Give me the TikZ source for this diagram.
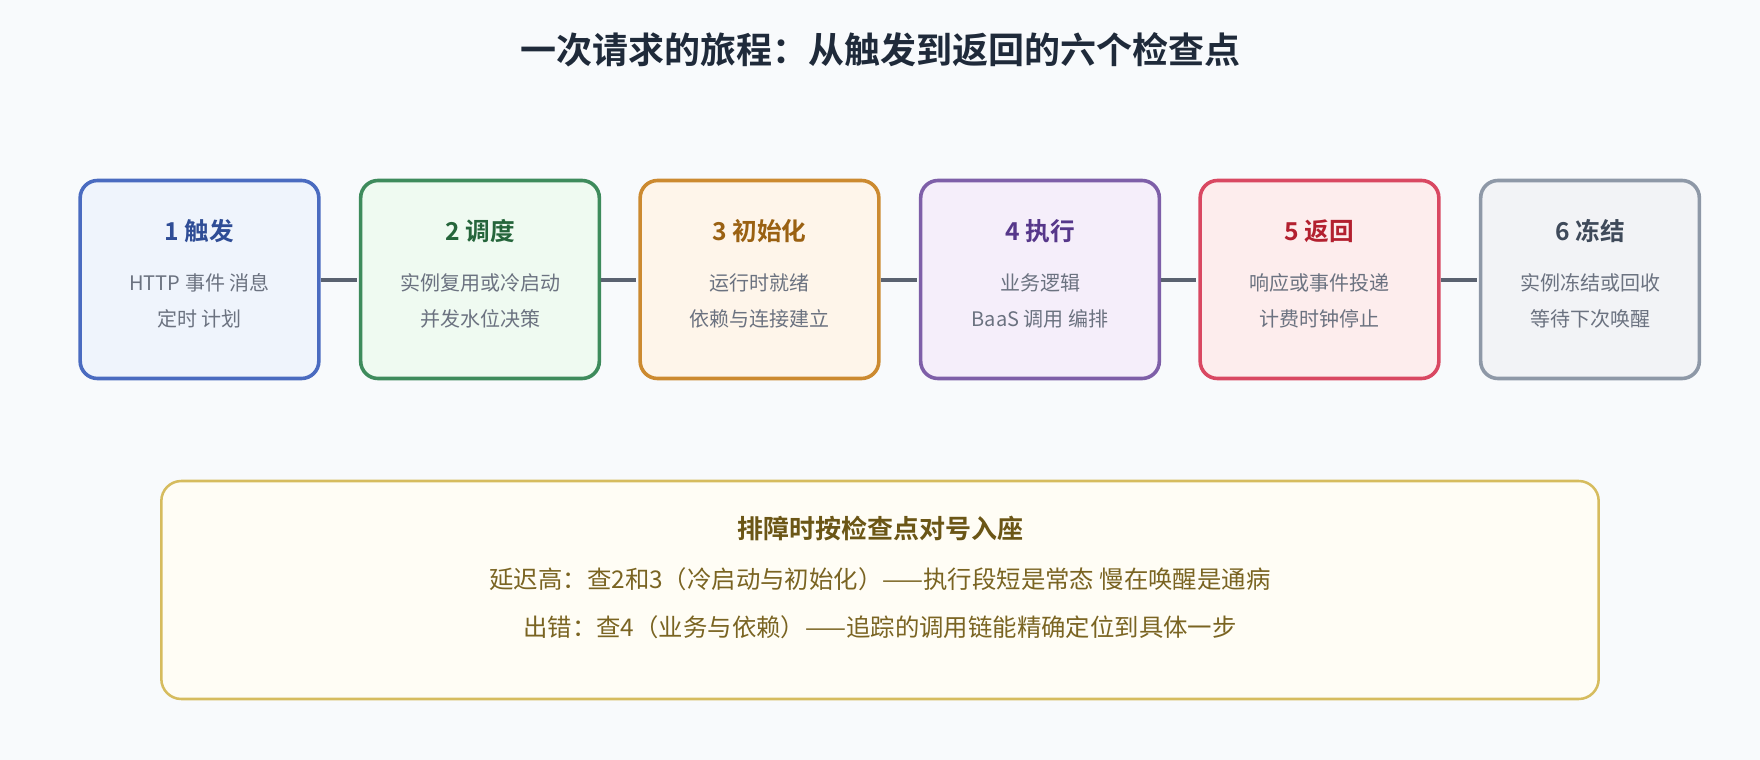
\documentclass[tikz,border=0pt]{standalone}
\usepackage{fontspec}
\setmainfont{Noto Sans CJK SC}[BoldFont={Noto Sans CJK SC Bold}]
\definecolor{bg}{HTML}{F8FAFC}
\definecolor{titlec}{HTML}{1F2A3A}
\definecolor{bodyc}{HTML}{6B7280}
\definecolor{connc}{HTML}{5A6270}
\definecolor{bdA}{HTML}{4A6BC0}\definecolor{fA}{HTML}{EFF4FC}\definecolor{tA}{HTML}{2F4D96}
\definecolor{bdB}{HTML}{3E8B5C}\definecolor{fB}{HTML}{EFFAF1}\definecolor{tB}{HTML}{25653B}
\definecolor{bdC}{HTML}{CC8A30}\definecolor{fC}{HTML}{FEF5EA}\definecolor{tC}{HTML}{9A6112}
\definecolor{bdD}{HTML}{7E5FA8}\definecolor{fD}{HTML}{F5EEFA}\definecolor{tD}{HTML}{56378A}
\definecolor{bdE}{HTML}{D94862}\definecolor{fE}{HTML}{FDEDED}\definecolor{tE}{HTML}{B3202F}
\definecolor{bdF}{HTML}{8E98A7}\definecolor{fF}{HTML}{F2F3F6}\definecolor{tF}{HTML}{3F4A5A}
\definecolor{bdN}{HTML}{D6BC5E}\definecolor{fN}{HTML}{FFFDF5}\definecolor{tN}{HTML}{6B5616}\definecolor{bN}{HTML}{7A6422}
\begin{document}
\begin{tikzpicture}[x=0.75pt,y=-0.75pt,
  stage/.style={draw=#1, line width=2.7pt, rounded corners=13pt, minimum width=179pt, minimum height=148.5pt, inner sep=0pt},
  stitle/.style={font=\fontsize{18.5}{22}\bfseries\selectfont, text=#1, inner sep=0pt},
  sbody/.style={font=\fontsize{15}{27}\selectfont, text=bodyc, align=center, inner sep=0pt},
  conn/.style={draw=connc, line width=3pt},
  note/.style={draw=bdN, fill=fN, line width=1.9pt, rounded corners=15pt, minimum width=1078pt, minimum height=163.5pt, inner sep=0pt}]
\useasboundingbox (0,0) rectangle (1760,760);
\fill[bg] (0,0) rectangle (1760,760);
\node[font=\fontsize{27}{32}\bfseries\selectfont, text=titlec] (title) at (880,50) {一次请求的旅程：从触发到返回的六个检查点};
% stages
\node[stage=bdA, fill=fA] (s1) at (199.5,279.5) {};
\node[stage=bdB, fill=fB] (s2) at (480,279.5) {};
\node[stage=bdC, fill=fC] (s3) at (759.5,279.5) {};
\node[stage=bdD, fill=fD] (s4) at (1040,279.5) {};
\node[stage=bdE, fill=fE] (s5) at (1319.5,279.5) {};
\node[stage=bdF, fill=fF, minimum width=164pt] (s6) at (1590,279.5) {};
\node[stitle=tA] (t1) at (199.5,231.5) {1 触发};
\node[stitle=tB] (t2) at (480,231.5) {2 调度};
\node[stitle=tC] (t3) at (759.5,231.5) {3 初始化};
\node[stitle=tD] (t4) at (1040,231.5) {4 执行};
\node[stitle=tE] (t5) at (1319.5,231.5) {5 返回};
\node[stitle=tF] (t6) at (1590,231.5) {6 冻结};
\node[sbody] (b1) at (199.5,301) {HTTP 事件 消息\\定时 计划};
\node[sbody] (b2) at (480,301) {实例复用或冷启动\\并发水位决策};
\node[sbody] (b3) at (759.5,301) {运行时就绪\\依赖与连接建立};
\node[sbody] (b4) at (1040,301) {业务逻辑\\BaaS 调用 编排};
\node[sbody] (b5) at (1319.5,301) {响应或事件投递\\计费时钟停止};
\node[sbody] (b6) at (1590,301) {实例冻结或回收\\等待下次唤醒};
% connectors
\draw[conn] (s1.east) -- ([xshift=-1.5pt]s2.west);
\draw[conn] (s2.east) -- ([xshift=-1.5pt]s3.west);
\draw[conn] (s3.east) -- ([xshift=-1.5pt]s4.west);
\draw[conn] (s4.east) -- ([xshift=-1.5pt]s5.west);
\draw[conn] (s5.east) -- ([xshift=-1.5pt]s6.west);
% note
\node[note] (n) at (880,590) {};
\node[font=\fontsize{19.5}{24}\bfseries\selectfont, text=tN, inner sep=0pt] (nt) at (880,528) {排障时按检查点对号入座};
\node[font=\fontsize{18.3}{36}\selectfont, text=bN, align=center, inner sep=0pt] (nb) at (880,603) {延迟高：查2和3（冷启动与初始化）——执行段短是常态 慢在唤醒是通病\\出错：查4（业务与依赖）——追踪的调用链能精确定位到具体一步};
\end{tikzpicture}
\end{document}
